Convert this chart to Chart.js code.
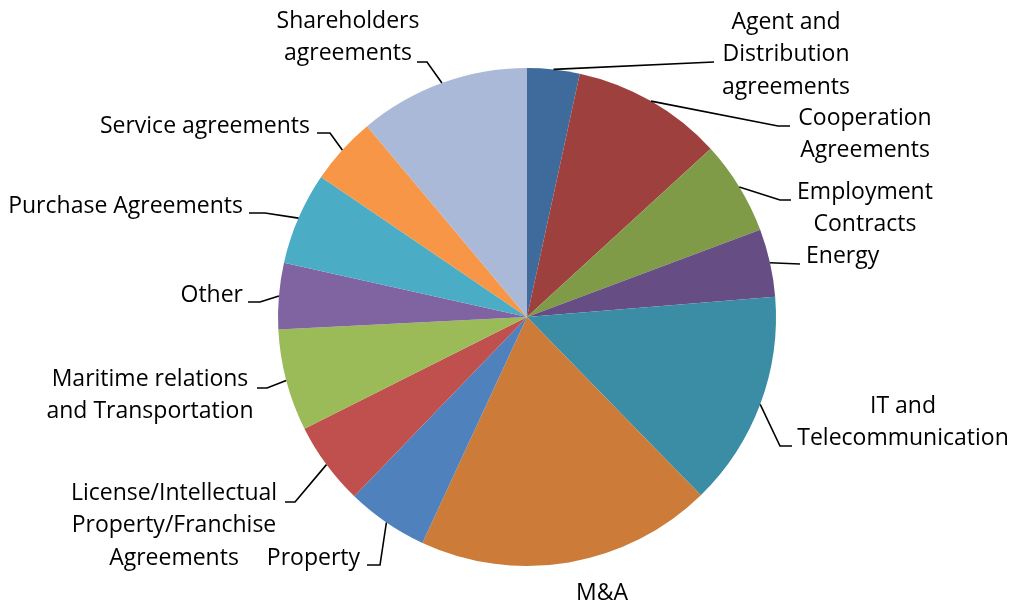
<!DOCTYPE html>
<html>
<head>
<meta charset="utf-8">
<script src="https://cdn.jsdelivr.net/npm/chart.js@4/dist/chart.umd.min.js"></script>
<style>
  html, body { margin: 0; padding: 0; background: #fff; }
  #wrap { width: 1015px; height: 608px; position: relative; }
</style>
</head>
<body>
<div id="wrap"><canvas id="pie"></canvas></div>
<script>
    // categories, clockwise from 12 o'clock
    const categories = [
      ['Agent and', 'Distribution', 'agreements'],
      ['Cooperation', 'Agreements'],
      ['Employment', 'Contracts'],
      ['Energy'],
      ['IT and', 'Telecommunication'],
      ['M&A'],
      ['Property'],
      ['License/Intellectual', 'Property/Franchise', 'Agreements'],
      ['Maritime relations', 'and Transportation'],
      ['Other'],
      ['Purchase Agreements'],
      ['Service agreements'],
      ['Shareholders', 'agreements']
    ];
    // share of contracts, %
    const shares = [3.4, 9.8, 6.1, 4.4, 14.0, 19.2, 5.3, 5.4, 6.6, 4.3, 6.0, 4.4, 11.1];
    const sliceColors = [
      '#3F6A9C', '#9E413E', '#7F9B48', '#664E84', '#3A8DA4', '#CC7B38', '#4F81BD',
      '#C0504D', '#9BBB59', '#8064A2', '#4BACC6', '#F79646', '#AAB9D7'
    ];

    // label placement relative to the pie centre (px): elbow, line end, text anchor, align
    const labelLayout = [
      { elbow: null,        end: [187, -255], text: [259, -295],  align: 'center' },
      { elbow: [251, -191], end: [263, -191], text: [338, -199],  align: 'center' },
      { elbow: [253, -117], end: [264, -117], text: [338, -125],  align: 'center' },
      { elbow: null,        end: [273, -53],  text: [279, -61],   align: 'left' },
      { elbow: [253, 129],  end: [265, 129],  text: [376, 89],    align: 'center' },
      { elbow: null,        end: null,        text: [75, 276],    align: 'center' },
      { elbow: [-147, 248], end: [-160, 248], text: [-167, 241],  align: 'right' },
      { elbow: [-232, 185], end: [-242, 185], text: [-353, 176],  align: 'center' },
      { elbow: [-260, 71],  end: [-270, 71],  text: [-377, 62],   align: 'center' },
      { elbow: [-267, -15], end: [-279, -15], text: [-284, -22],  align: 'right' },
      { elbow: [-262, -104],end: [-278, -104],text: [-284, -111], align: 'right' },
      { elbow: [-197, -184],end: [-210, -184],text: [-217, -191], align: 'right' },
      { elbow: [-100, -255],end: [-110, -255],text: [-179, -296], align: 'center' }
    ];
    const lineHeight = 32.5;

    const outsideLabels = {
      id: 'outsideLabels',
      afterDatasetsDraw(chart) {
        const ctx = chart.ctx;
        const arcs = chart.getDatasetMeta(0).data;
        ctx.save();
        ctx.strokeStyle = '#000';
        ctx.lineWidth = 1.6;
        ctx.fillStyle = '#000';
        ctx.font = '23px "Open Sans", sans-serif';
        ctx.textBaseline = 'middle';
        arcs.forEach((arc, i) => {
          const p = arc.getProps(['x', 'y', 'startAngle', 'endAngle', 'outerRadius'], true);
          const lay = labelLayout[i];
          const mid = (p.startAngle + p.endAngle) / 2;
          if (lay.end) {
            ctx.beginPath();
            ctx.moveTo(p.x + Math.cos(mid) * p.outerRadius, p.y + Math.sin(mid) * p.outerRadius);
            if (lay.elbow) ctx.lineTo(p.x + lay.elbow[0], p.y + lay.elbow[1]);
            ctx.lineTo(p.x + lay.end[0], p.y + lay.end[1]);
            ctx.stroke();
          }
          ctx.textAlign = lay.align;
          categories[i].forEach((line, k) => {
            ctx.fillText(line, p.x + lay.text[0], p.y + lay.text[1] + k * lineHeight);
          });
        });
        ctx.restore();
      }
    };

    const ctx = document.getElementById('pie').getContext('2d');
    const chart = new Chart(ctx, {
      type: 'pie',
      data: {
        labels: categories.map(c => c.join(' ')),
        datasets: [{
          data: shares,
          backgroundColor: sliceColors,
          borderWidth: 0
        }]
      },
      options: {
        responsive: true,
        maintainAspectRatio: false,
        animation: false,
        layout: {
          padding: { top: 68, bottom: 42, left: 278, right: 239 }
        },
        plugins: {
          legend: { display: false },
          tooltip: { enabled: false }
        }
      },
      plugins: [outsideLabels]
    });
</script>
</body>
</html>
